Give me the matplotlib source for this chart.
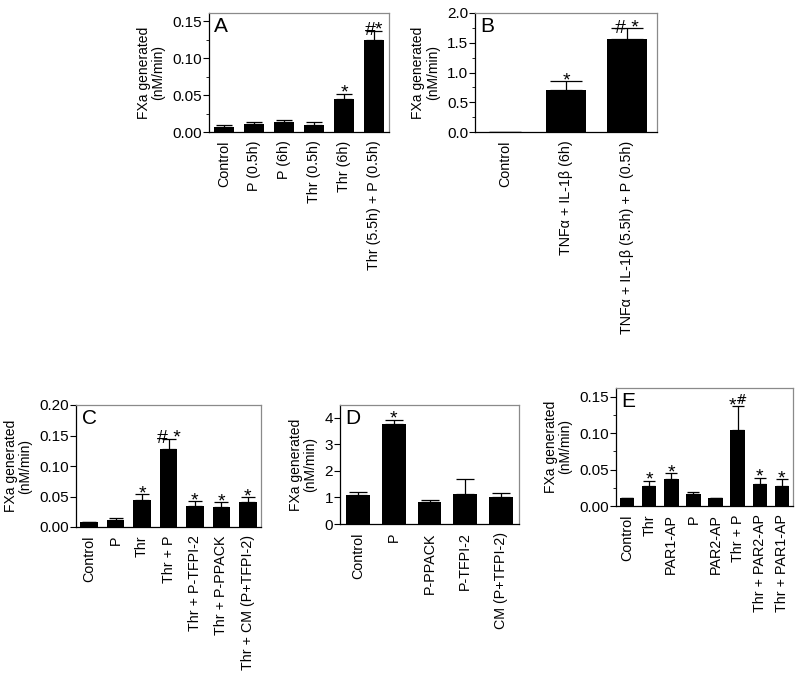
"""
Five-panel bar chart of FXa generation (nM/min) under various treatments.
"""
import matplotlib.pyplot as plt
import numpy as np
from matplotlib.ticker import MultipleLocator

plt.rcParams["font.family"] = ["Liberation Sans", "DejaVu Sans"]

# Panel A
A_LABELS = ["Control", "P (0.5h)", "P (6h)", "Thr (0.5h)", "Thr (6h)",
            "Thr (5.5h) + P (0.5h)"]
A_MEANS = [0.007, 0.011, 0.014, 0.0095, 0.044, 0.125]
A_ERRS = [0.002, 0.003, 0.0026, 0.0045, 0.008, 0.012]
A_MARKS = ["", "", "", "", "*", "#*"]

# Panel B
B_LABELS = ["Control", "TNFα + IL-1β (6h)", "TNFα + IL-1β (5.5h) + P (0.5h)"]
B_MEANS = [0.005, 0.71, 1.56]
B_ERRS = [0.0, 0.14, 0.18]
B_MARKS = ["", "*", "# *"]

# Panel C
C_LABELS = ["Control", "P", "Thr", "Thr + P", "Thr + P-TFPI-2",
            "Thr + P-PPACK", "Thr + CM (P+TFPI-2)"]
C_MEANS = [0.0075, 0.012, 0.045, 0.128, 0.035, 0.033, 0.041]
C_ERRS = [0.0015, 0.003, 0.009, 0.016, 0.008, 0.008, 0.008]
C_MARKS = ["", "", "*", "# *", "*", "*", "*"]

# Panel D
D_LABELS = ["Control", "P", "P-PPACK", "P-TFPI-2", "CM (P+TFPI-2)"]
D_MEANS = [1.09, 3.75, 0.84, 1.13, 1.02]
D_ERRS = [0.13, 0.18, 0.08, 0.55, 0.13]
D_MARKS = ["", "*", "", "", ""]

# Panel E
E_LABELS = ["Control", "Thr", "PAR1-AP", "P", "PAR2-AP", "Thr + P",
            "Thr + PAR2-AP", "Thr + PAR1-AP"]
E_MEANS = [0.0105, 0.028, 0.037, 0.016, 0.0105, 0.105, 0.030, 0.028]
E_ERRS = [0.001, 0.007, 0.008, 0.003, 0.0008, 0.032, 0.009, 0.009]
E_MARKS = ["", "*", "*", "", "", "*$^{\\#}$", "*", "*"]

FIG_W, FIG_H = 800, 683
BAR_WIDTH = 0.66
GREY = "#8a8a8a"


def rect(left, top, right, bottom):
    """Converts pixel box edges into a figure-fraction rectangle."""
    return [left / FIG_W, 1 - bottom / FIG_H, (right - left) / FIG_W,
            (bottom - top) / FIG_H]


def draw_panel(fig, box, letter, labels, means, errs, marks, ylim, major,
               minor=None, fmt="{:.2f}"):
    """Draws one bar panel with upper error bars and significance marks."""
    ax = fig.add_axes(rect(*box))
    n = len(labels)
    x = np.arange(n)
    bar_px = BAR_WIDTH * (box[2] - box[0]) / n
    capsize = 0.4 * bar_px * 72 / 100
    ax.bar(x, means, width=BAR_WIDTH, color="black", zorder=2)
    ax.errorbar(x, means, yerr=[np.zeros(n), errs], fmt="none",
                ecolor="black", elinewidth=0.9, capsize=capsize,
                capthick=0.9, zorder=1)
    for xi, m, e, mark in zip(x, means, errs, marks):
        if mark:
            ax.annotate(mark, (xi, m + e), xytext=(0, -6),
                        textcoords="offset points", ha="center", va="bottom",
                        fontsize=14)
    ax.set_xlim(-0.5, n - 0.5)
    ax.yaxis.set_major_locator(MultipleLocator(major))
    if minor:
        ax.yaxis.set_minor_locator(MultipleLocator(minor))
    ax.set_ylim(*ylim)
    ticks = [t for t in ax.get_yticks() if t <= ylim[1] + 1e-9]
    ax.set_yticks(ticks)
    ax.set_yticklabels([fmt.format(v) for v in ticks])
    ax.set_ylim(*ylim)
    ax.set_xticks(x)
    ax.set_xticklabels(labels, rotation=90, fontsize=10.3)
    ax.tick_params(axis="x", length=0, pad=6)
    ax.tick_params(axis="y", which="major", length=4, width=0.8,
                   labelsize=11, pad=1)
    ax.tick_params(axis="y", which="minor", length=2, width=0.6)
    for side in ("top", "right"):
        ax.spines[side].set_color(GREY)
    for spine in ax.spines.values():
        spine.set_linewidth(0.9)
    ax.set_ylabel("FXa generated\n(nM/min)", fontsize=10,
                  linespacing=1.05, labelpad=5)
    ax.text(0.03, 0.97, letter, transform=ax.transAxes, ha="left", va="top",
            fontsize=15)
    return ax


fig = plt.figure(figsize=(FIG_W / 100, FIG_H / 100), dpi=100)
draw_panel(fig, (209, 13, 389, 132), "A", A_LABELS, A_MEANS, A_ERRS,
           A_MARKS, (0, 0.161), 0.05, 0.025)
draw_panel(fig, (475, 13, 657, 132), "B", B_LABELS, B_MEANS, B_ERRS,
           B_MARKS, (0, 2.0), 0.5, 0.25, fmt="{:.1f}")
draw_panel(fig, (76, 405, 261, 527), "C", C_LABELS, C_MEANS, C_ERRS,
           C_MARKS, (0, 0.20), 0.05)
draw_panel(fig, (340, 405, 519, 524), "D", D_LABELS, D_MEANS, D_ERRS,
           D_MARKS, (0, 4.48), 1, fmt="{:.0f}")
draw_panel(fig, (616, 388, 793, 506), "E", E_LABELS, E_MEANS, E_ERRS,
           E_MARKS, (0, 0.162), 0.05, 0.025)
fig.savefig("out.png", dpi=100)
